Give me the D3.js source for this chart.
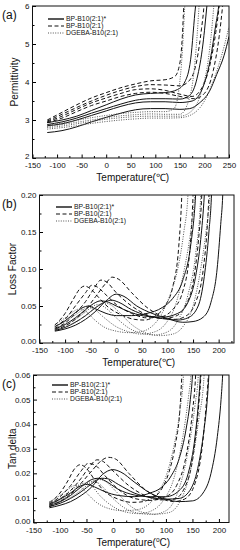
<!DOCTYPE html>
<html>
<head>
<meta charset="utf-8">
<script src="https://cdn.jsdelivr.net/npm/d3@7"></script>
<style>
body { margin: 0; background: #fff; }
svg { font-family: "Liberation Sans", Arial, sans-serif; }
</style>
</head>
<body>
<svg id="fig" width="240" height="550"></svg>
<script>
// legend names (same three systems in every panel)
var seriesNames = ["BP-B10(2:1)*", "BP-B10(2:1)", "DGEBA-B10(2:1)"];

var tempTicks = [-150, -100, -50, 0, 50, 100, 150, 200, 250];
var tempTicksShort = [-150, -100, -50, 0, 50, 100, 150, 200];
var permTicks = [2, 3, 4, 5, 6];
var lossTicks = [0, 0.05, 0.10, 0.15, 0.20];
var tanTicks = [0, 0.01, 0.02, 0.03, 0.04, 0.05, 0.06];

// (a) permittivity, four frequencies per system, [T, value]
var permSolid = [
  [[-120,2.93],[-90,3.0],[-60,3.1],[-30,3.25],[0,3.4],[30,3.55],[60,3.66],[90,3.7],[120,3.72],[145,3.8],[160,4.0],[172,4.6],[182,6.0],[186,6.4]],
  [[-120,2.88],[-90,2.95],[-60,3.05],[-30,3.18],[0,3.3],[30,3.42],[60,3.52],[90,3.56],[120,3.56],[150,3.55],[170,3.65],[185,4.1],[197,5.0],[205,6.0],[208,6.4]],
  [[-120,2.85],[-90,2.9],[-60,3.0],[-30,3.12],[0,3.24],[30,3.36],[60,3.45],[90,3.48],[120,3.48],[150,3.46],[175,3.5],[195,3.8],[212,4.6],[223,5.5],[229,6.0],[232,6.4]],
  [[-120,2.67],[-90,2.72],[-60,2.82],[-30,2.95],[0,3.07],[30,3.18],[60,3.27],[90,3.3],[120,3.3],[150,3.28],[170,3.3],[190,3.45],[210,3.75],[225,4.2],[240,4.7],[250,5.2]]
];
var permDashed = [
  [[-120,3.0],[-90,3.2],[-60,3.4],[-30,3.58],[0,3.72],[30,3.85],[60,3.95],[90,4.03],[120,4.06],[140,4.15],[150,4.5],[155,5.2],[158,6.0],[160,6.4]],
  [[-120,2.97],[-90,3.15],[-60,3.33],[-30,3.5],[0,3.65],[30,3.78],[60,3.88],[90,3.93],[120,3.92],[150,3.9],[170,4.05],[185,4.6],[194,5.4],[199,6.0],[201,6.4]],
  [[-120,2.95],[-90,3.1],[-60,3.28],[-30,3.45],[0,3.58],[30,3.7],[60,3.8],[90,3.82],[120,3.78],[150,3.68],[175,3.62],[195,3.85],[212,4.5],[223,5.3],[230,6.0],[233,6.4]],
  [[-120,2.93],[-90,3.05],[-60,3.22],[-30,3.38],[0,3.5],[30,3.62],[60,3.7],[90,3.73],[120,3.7],[150,3.62],[180,3.56],[200,3.7],[218,4.3],[230,5.2],[237,6.0],[240,6.4]]
];
var permDotted = [
  [[-120,2.87],[-90,2.92],[-60,2.99],[-30,3.06],[0,3.12],[30,3.17],[60,3.2],[90,3.22],[120,3.22],[138,3.3],[148,3.8],[155,4.8],[160,6.0],[162,6.4]],
  [[-120,2.83],[-90,2.88],[-60,2.94],[-30,3.0],[0,3.06],[30,3.11],[60,3.14],[90,3.16],[120,3.15],[150,3.15],[165,3.4],[178,4.2],[185,5.2],[189,6.0],[191,6.4]],
  [[-120,2.8],[-90,2.84],[-60,2.9],[-30,2.96],[0,3.02],[30,3.06],[60,3.09],[90,3.1],[120,3.1],[150,3.1],[175,3.25],[195,3.8],[208,4.6],[215,5.4],[219,6.0],[221,6.4]],
  [[-120,2.76],[-90,2.8],[-60,2.85],[-30,2.91],[0,2.96],[30,3.0],[60,3.03],[90,3.05],[120,3.05],[150,3.06],[175,3.15],[200,3.5],[220,4.1],[235,4.7],[250,5.45]]
];

// (b) loss factor
var lossSolid = [
  [[-120,0.022],[-100,0.03],[-80,0.041],[-65,0.048],[-55,0.050],[-40,0.046],[-20,0.040],[0,0.037],[30,0.037],[60,0.04],[90,0.048],[110,0.06],[130,0.085],[145,0.13],[155,0.2],[158,0.24]],
  [[-120,0.019],[-100,0.025],[-80,0.034],[-60,0.045],[-45,0.053],[-30,0.057],[-15,0.055],[0,0.05],[30,0.041],[60,0.036],[90,0.035],[120,0.04],[140,0.055],[155,0.09],[165,0.14],[172,0.2],[175,0.24]],
  [[-120,0.017],[-100,0.021],[-80,0.028],[-60,0.037],[-40,0.048],[-20,0.056],[-10,0.058],[5,0.055],[30,0.045],[60,0.037],[90,0.033],[120,0.031],[140,0.034],[160,0.05],[172,0.09],[181,0.15],[186,0.2],[188,0.24]],
  [[-120,0.016],[-100,0.019],[-80,0.024],[-60,0.032],[-40,0.043],[-20,0.057],[0,0.066],[15,0.063],[40,0.05],[70,0.04],[100,0.033],[130,0.028],[150,0.029],[170,0.035],[185,0.055],[197,0.1],[204,0.16],[208,0.2],[210,0.24]]
];
var lossDashed = [
  [[-120,0.024],[-100,0.04],[-85,0.058],[-70,0.074],[-62,0.077],[-50,0.073],[-35,0.062],[-15,0.048],[10,0.038],[35,0.032],[55,0.031],[75,0.036],[95,0.05],[110,0.075],[122,0.13],[128,0.2],[130,0.24]],
  [[-120,0.022],[-100,0.032],[-80,0.05],[-60,0.068],[-48,0.078],[-38,0.076],[-20,0.065],[0,0.052],[30,0.04],[60,0.034],[85,0.035],[110,0.045],[130,0.07],[143,0.12],[150,0.2],[152,0.24]],
  [[-120,0.02],[-100,0.027],[-80,0.04],[-60,0.056],[-45,0.072],[-30,0.085],[-20,0.083],[0,0.068],[30,0.05],[60,0.038],[90,0.033],[115,0.036],[135,0.05],[152,0.09],[162,0.15],[167,0.2],[169,0.24]],
  [[-120,0.018],[-100,0.023],[-80,0.032],[-60,0.045],[-40,0.063],[-20,0.081],[-8,0.089],[5,0.086],[30,0.068],[60,0.048],[90,0.036],[115,0.032],[135,0.036],[155,0.055],[170,0.1],[178,0.16],[181,0.2],[183,0.24]]
];
var lossDotted = [
  [[-120,0.025],[-100,0.034],[-85,0.042],[-72,0.046],[-60,0.043],[-45,0.033],[-25,0.022],[0,0.016],[25,0.014],[45,0.015],[65,0.02],[85,0.035],[105,0.065],[120,0.1],[132,0.15],[140,0.2],[142,0.24]],
  [[-120,0.022],[-100,0.029],[-80,0.038],[-65,0.045],[-55,0.048],[-42,0.045],[-25,0.035],[0,0.022],[25,0.015],[50,0.012],[70,0.014],[95,0.025],[115,0.05],[133,0.1],[147,0.16],[153,0.2],[155,0.24]],
  [[-120,0.02],[-100,0.025],[-80,0.032],[-60,0.042],[-45,0.05],[-35,0.052],[-20,0.047],[0,0.034],[25,0.02],[50,0.013],[75,0.011],[100,0.015],[120,0.03],[140,0.065],[155,0.12],[165,0.2],[167,0.24]],
  [[-120,0.018],[-100,0.022],[-80,0.028],[-60,0.037],[-40,0.048],[-25,0.054],[-12,0.052],[5,0.042],[30,0.025],[60,0.013],[85,0.01],[110,0.012],[130,0.022],[150,0.05],[165,0.1],[177,0.16],[183,0.2],[185,0.24]]
];

// (c) tan delta
var tanSolid = [
  [[-120,0.0075],[-100,0.0095],[-80,0.012],[-62,0.0148],[-48,0.0155],[-35,0.0145],[-15,0.0125],[10,0.011],[40,0.0105],[70,0.012],[90,0.014],[110,0.019],[125,0.026],[138,0.038],[146,0.05],[150,0.06],[152,0.07]],
  [[-120,0.007],[-100,0.0085],[-80,0.011],[-60,0.0145],[-40,0.0175],[-28,0.018],[-15,0.017],[10,0.0135],[40,0.0112],[70,0.0105],[100,0.0105],[125,0.013],[142,0.02],[155,0.035],[161,0.048],[165,0.06],[167,0.07]],
  [[-120,0.0065],[-100,0.0078],[-80,0.0098],[-60,0.0125],[-40,0.0158],[-22,0.018],[-10,0.0178],[10,0.0155],[40,0.012],[70,0.0102],[100,0.0095],[125,0.0098],[145,0.013],[160,0.022],[172,0.038],[178,0.05],[181,0.06],[183,0.07]],
  [[-120,0.006],[-100,0.007],[-80,0.0085],[-60,0.011],[-40,0.0145],[-20,0.0195],[0,0.0215],[15,0.0205],[40,0.0165],[70,0.012],[100,0.0095],[125,0.0085],[150,0.0088],[170,0.012],[185,0.02],[197,0.035],[204,0.05],[207,0.06],[209,0.07]]
];
var tanDashed = [
  [[-120,0.008],[-100,0.012],[-85,0.017],[-72,0.022],[-62,0.0235],[-50,0.022],[-35,0.0175],[-15,0.0125],[10,0.0095],[35,0.0082],[50,0.0083],[70,0.0095],[90,0.013],[105,0.02],[118,0.032],[126,0.045],[130,0.06],[132,0.07]],
  [[-120,0.0075],[-100,0.0105],[-80,0.015],[-60,0.021],[-47,0.024],[-35,0.0235],[-15,0.019],[10,0.0135],[40,0.0098],[70,0.009],[100,0.0105],[120,0.015],[138,0.027],[150,0.045],[156,0.06],[158,0.07]],
  [[-120,0.007],[-100,0.0095],[-80,0.013],[-60,0.018],[-45,0.0225],[-30,0.0255],[-20,0.025],[0,0.021],[30,0.015],[60,0.011],[90,0.0092],[115,0.0095],[135,0.014],[152,0.028],[162,0.048],[166,0.06],[168,0.07]],
  [[-120,0.0065],[-100,0.0085],[-80,0.0115],[-60,0.016],[-40,0.021],[-20,0.0255],[-8,0.0265],[5,0.0258],[30,0.02],[60,0.0135],[90,0.0098],[115,0.0085],[135,0.0095],[155,0.016],[168,0.03],[176,0.048],[180,0.06],[182,0.07]]
];
var tanDotted = [
  [[-120,0.0085],[-100,0.011],[-85,0.0135],[-72,0.015],[-62,0.0145],[-50,0.012],[-30,0.008],[-5,0.0055],[20,0.0048],[45,0.0052],[65,0.007],[85,0.012],[102,0.02],[115,0.031],[126,0.045],[133,0.06],[135,0.07]],
  [[-120,0.008],[-100,0.0098],[-80,0.013],[-62,0.0155],[-52,0.016],[-40,0.0148],[-25,0.011],[0,0.0065],[25,0.0042],[50,0.0036],[70,0.0045],[95,0.009],[115,0.018],[132,0.035],[143,0.052],[147,0.06],[149,0.07]],
  [[-120,0.0075],[-100,0.009],[-80,0.0115],[-60,0.0145],[-45,0.0165],[-35,0.0168],[-22,0.015],[0,0.0098],[25,0.0055],[50,0.0037],[75,0.0033],[100,0.0048],[120,0.011],[140,0.027],[155,0.048],[161,0.06],[163,0.07]],
  [[-120,0.007],[-100,0.0082],[-80,0.0102],[-60,0.0132],[-40,0.0165],[-27,0.0175],[-15,0.0168],[5,0.0128],[30,0.0072],[55,0.0042],[80,0.0034],[105,0.004],[125,0.008],[145,0.02],[162,0.042],[172,0.06],[174,0.07]]
];

var lineStyles = [
  {dash: null, color: "#111", width: 1},
  {dash: "4,2.5", color: "#111", width: 1},
  {dash: "1,1.4", color: "#555", width: 1}
];

var svg = d3.select("#fig");

function drawPanel(p) {
  var x = d3.scaleLinear().domain(p.xDomain).range([p.left, p.right]);
  var y = d3.scaleLinear().domain(p.yDomain).range([p.bottom, p.top]);
  var g = svg.append("g");

  g.append("clipPath").attr("id", "clip" + p.id)
    .append("rect").attr("x", p.left).attr("y", p.top)
    .attr("width", p.right - p.left).attr("height", p.bottom - p.top);

  // minor ticks
  g.append("g").attr("transform", "translate(0," + p.bottom + ")")
    .call(d3.axisBottom(x).tickValues(p.xMinor).tickSize(-2).tickFormat(""))
    .call(function(s) { s.select(".domain").remove(); });
  g.append("g").attr("transform", "translate(" + p.left + ",0)")
    .call(d3.axisLeft(y).tickValues(p.yMinor).tickSize(-2).tickFormat(""))
    .call(function(s) { s.select(".domain").remove(); });

  var xAxis = g.append("g").attr("transform", "translate(0," + p.bottom + ")")
    .call(d3.axisBottom(x).tickValues(p.xTicks).tickSize(-3.5).tickPadding(4.5)
      .tickFormat(function(d) { return String(d); }));
  var yAxis = g.append("g").attr("transform", "translate(" + p.left + ",0)")
    .call(d3.axisLeft(y).tickValues(p.yTicks).tickSize(-3.5).tickPadding(3)
      .tickFormat(p.yFormat));
  [xAxis, yAxis].forEach(function(a) {
    a.select(".domain").remove();
    a.selectAll("text").attr("font-size", 8).attr("fill", "#111")
      .attr("font-family", "'Liberation Sans', Arial, sans-serif");
  });
  // lowest y label sits a touch higher so it clears the x labels
  yAxis.selectAll(".tick").filter(function(d) { return d === p.yDomain[0]; })
    .select("text").attr("dy", "0.1em");

  var line = d3.line()
    .x(function(d) { return x(d[0]); })
    .y(function(d) { return y(d[1]); })
    .curve(d3.curveMonotoneX);

  var plot = g.append("g").attr("clip-path", "url(#clip" + p.id + ")");
  p.series.forEach(function(curves, i) {
    var st = lineStyles[i];
    plot.selectAll(null).data(curves).enter().append("path")
      .attr("d", line)
      .attr("fill", "none")
      .attr("stroke", st.color)
      .attr("stroke-width", st.width)
      .attr("stroke-dasharray", st.dash);
  });

  g.append("rect").attr("x", p.left).attr("y", p.top)
    .attr("width", p.right - p.left).attr("height", p.bottom - p.top)
    .attr("fill", "none").attr("stroke", "#111").attr("stroke-width", 1);

  // legend
  seriesNames.forEach(function(name, i) {
    var st = lineStyles[i];
    var ly = p.legendY[i];
    g.append("line").attr("x1", p.legendX).attr("x2", p.legendX + 16)
      .attr("y1", ly).attr("y2", ly)
      .attr("stroke", st.color).attr("stroke-width", i === 0 ? 1.4 : 1.1)
      .attr("stroke-dasharray", st.dash);
    g.append("text").attr("x", p.legendX + 18).attr("y", ly + 2.4)
      .attr("font-size", 6.8).attr("fill", "#111").text(name);
  });

  g.append("text").attr("x", 2).attr("y", p.top + 13)
    .attr("font-size", 12).attr("fill", "#111").text(p.label);

  g.append("text")
    .attr("transform", "translate(" + p.yTitleX + "," + ((p.top + p.bottom) / 2) + ") rotate(-90)")
    .attr("text-anchor", "middle").attr("font-size", 10).attr("fill", "#111")
    .text(p.yTitle);

  var xt = g.append("text").attr("x", (p.left + p.right) / 2 + 2).attr("y", p.xTitleY)
    .attr("text-anchor", "middle").attr("font-size", 10).attr("fill", "#111");
  if (p.superO) {
    xt.append("tspan").text("Temperature(");
    xt.append("tspan").attr("font-size", 6.5).attr("dy", -4).text("o");
    xt.append("tspan").attr("dy", 4).text("C)");
  } else {
    xt.text("Temperature(\u2103)");
  }
}

function steps(a, b, s) { return d3.range(a, b + s / 2, s); }

drawPanel({
  id: "a", label: "(a)", yTitle: "Permittivity", superO: false,
  left: 32.5, right: 229, top: 6, bottom: 158,
  xDomain: [-150, 250], yDomain: [2, 6],
  xTicks: tempTicks, yTicks: permTicks, yFormat: d3.format("d"),
  xMinor: steps(-125, 225, 50), yMinor: steps(2.5, 5.5, 1),
  series: [permSolid, permDashed, permDotted],
  legendX: 48, legendY: [19, 26, 33], yTitleX: 18, xTitleY: 181
});

drawPanel({
  id: "b", label: "(b)", yTitle: "Loss Factor", superO: false,
  left: 39.5, right: 234, top: 195, bottom: 343,
  xDomain: [-150, 230], yDomain: [0, 0.2],
  xTicks: tempTicksShort, yTicks: lossTicks, yFormat: d3.format(".2f"),
  xMinor: steps(-125, 225, 50), yMinor: steps(0.025, 0.175, 0.05),
  series: [lossSolid, lossDashed, lossDotted],
  legendX: 56, legendY: [207, 214, 221], yTitleX: 16, xTitleY: 366
});

drawPanel({
  id: "c", label: "(c)", yTitle: "Tan delta", superO: true,
  left: 33.5, right: 229, top: 375, bottom: 522.5,
  xDomain: [-150, 219], yDomain: [0, 0.06],
  xTicks: tempTicksShort, yTicks: tanTicks, yFormat: d3.format(".2f"),
  xMinor: steps(-125, 200, 50), yMinor: steps(0.005, 0.055, 0.01),
  series: [tanSolid, tanDashed, tanDotted],
  legendX: 52, legendY: [385, 392, 399], yTitleX: 16, xTitleY: 546
});
</script>
</body>
</html>
